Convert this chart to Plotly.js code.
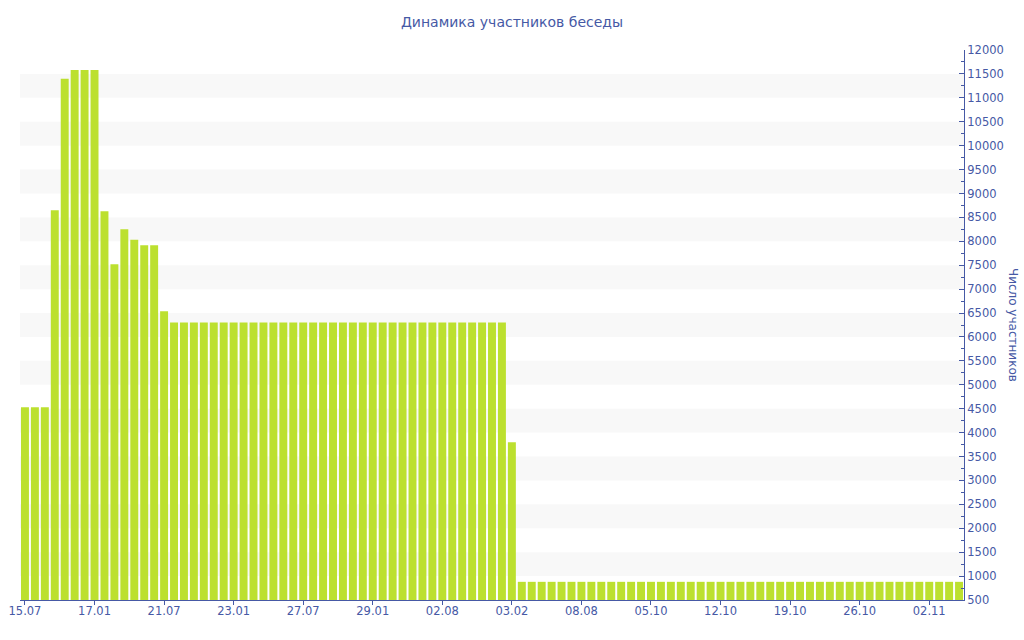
<!DOCTYPE html>
<html>
<head>
<meta charset="utf-8">
<script src="https://cdn.plot.ly/plotly-3.0.1.min.js"></script>
<style>html,body{margin:0;padding:0;background:#fff;}#chart{width:1024px;height:640px;}</style>
</head>
<body>
<div id="chart"></div>
<script>
const tickLabels = ["15.07","17.01","21.07","23.01","27.07","29.01","02.08","03.02","08.08","05.10","12.10","19.10","26.10","02.11"];
const participants = [
  4530, 4530, 4530, 8650, 11400, 11580, 11580, 11580, 8630, 7520,
  8250, 8030, 7920, 7920, 6540, 6300, 6300, 6300, 6300, 6300,
  6300, 6300, 6300, 6300, 6300, 6300, 6300, 6300, 6300, 6300,
  6300, 6300, 6300, 6300, 6300, 6300, 6300, 6300, 6300, 6300,
  6300, 6300, 6300, 6300, 6300, 6300, 6300, 6300, 6300, 3800,
  880, 880, 880, 880, 880, 880, 880, 880, 880, 880,
  880, 880, 880, 880, 880, 880, 880, 880, 880, 880,
  880, 880, 880, 880, 880, 880, 880, 880, 880, 880,
  880, 880, 880, 880, 880, 880, 880, 880, 880, 880,
  880, 880, 880, 880, 880
];
const xIdx = participants.map((_, i) => i);
const tickVals = tickLabels.map((_, i) => i * 7);

const textColor = "#4659a5";
const font = "DejaVu Sans, Verdana, sans-serif";

const shapes = [];
for (let v = 1000; v < 12000; v += 1000) {
  shapes.push({type: "rect", xref: "paper", yref: "y", x0: 0, x1: 1, y0: v, y1: v + 500,
    fillcolor: "#f8f8f8", line: {width: 0}, layer: "below"});
}

Plotly.newPlot("chart", [{
  type: "bar",
  x: xIdx,
  y: participants,
  marker: {color: "#bce02f", line: {width: 0}},
  hoverinfo: "y"
}], {
  width: 1024, height: 640,
  margin: {l: 20, r: 60, t: 50, b: 40},
  paper_bgcolor: "#ffffff",
  plot_bgcolor: "#ffffff",
  bargap: 0.2,
  showlegend: false,
  font: {family: font, color: textColor, size: 11.5},
  title: {text: "Динамика участников беседы", x: 0.5, xanchor: "center", y: 0.965, yanchor: "middle",
    font: {family: font, size: 14, color: textColor}},
  xaxis: {
    range: [-0.5, participants.length - 0.5],
    tickmode: "array", tickvals: tickVals, ticktext: tickLabels,
    showgrid: false, zeroline: false,
    showline: true, linecolor: textColor, linewidth: 1,
    ticks: "outside", ticklen: 4, tickcolor: textColor,
    tickfont: {family: font, size: 11.5, color: textColor},
    ticklabelstandoff: -4
  },
  yaxis: {
    side: "right",
    range: [500, 12000], dtick: 500, tick0: 500, tickformat: "d",
    showgrid: false, zeroline: false,
    showline: true, linecolor: textColor, linewidth: 1,
    ticks: "inside", ticklen: 5, tickcolor: textColor,
    minor: {ticks: "inside", ticklen: 3, dtick: 250, tickcolor: textColor, showgrid: false},
    tickfont: {family: font, size: 11.5, color: textColor},
    ticklabelstandoff: 0
  },
  shapes: shapes,
  annotations: [{
    text: "Число участников", xref: "paper", yref: "paper", x: 1.052, y: 0.5,
    xanchor: "center", yanchor: "middle", showarrow: false, textangle: 90,
    font: {family: font, size: 12, color: textColor}
  }]
}, {displayModeBar: false});
</script>
</body>
</html>
